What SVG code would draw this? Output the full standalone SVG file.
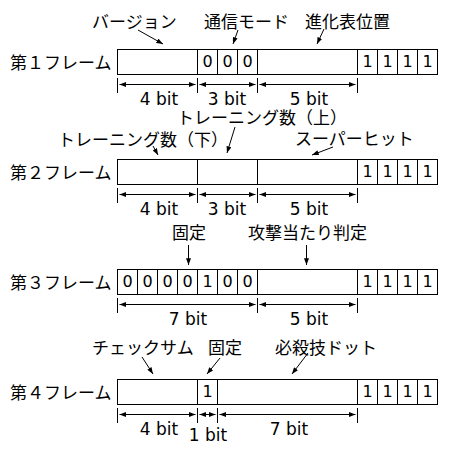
<svg xmlns="http://www.w3.org/2000/svg" width="450" height="450" viewBox="0 0 450 450">
<defs>
<marker id="ah" viewBox="0 0 8 6" refX="8" refY="3" markerWidth="7" markerHeight="5" orient="auto-start-reverse" markerUnits="userSpaceOnUse"><path d="M0,0 L8,3 L0,6 Z" fill="#000"/></marker>
</defs>
<style>
.box{fill:#fff;stroke:#000;stroke-width:1}
.sep{stroke:#000;stroke-width:1}
.jp{font-family:"Noto Sans CJK JP","DejaVu Sans",sans-serif;font-size:17px;fill:#000}
.num{font-family:"DejaVu Sans",sans-serif;font-size:16px;text-anchor:middle;fill:#000}
.bit{font-family:"DejaVu Sans",sans-serif;font-size:17px;text-anchor:middle;fill:#000}
.tick{stroke:#000;stroke-width:1}
.dim{stroke:#000;stroke-width:1;marker-start:url(#ah);marker-end:url(#ah)}
.call{stroke:#000;stroke-width:1;fill:none;marker-end:url(#ah)}
</style>

<!-- Frame 1 -->
<g id="frame1">
<text class="jp" x="10" y="69">第１フレーム</text>
<rect class="box" x="117.5" y="49.5" width="320" height="25"/>
<path class="sep" d="M197.5,49.5V74.5M217.5,49.5V74.5M237.5,49.5V74.5M257.5,49.5V74.5M357.5,49.5V74.5M377.5,49.5V74.5M397.5,49.5V74.5M417.5,49.5V74.5"/>
<text class="num" x="207.5" y="67">0</text><text class="num" x="227.5" y="67">0</text><text class="num" x="247.5" y="67">0</text>
<text class="num" x="367.5" y="67">1</text><text class="num" x="387.5" y="67">1</text><text class="num" x="407.5" y="67">1</text><text class="num" x="427.5" y="67">1</text>
<text class="jp" x="92" y="28">バージョン</text>
<text class="jp" x="204" y="28">通信モード</text>
<text class="jp" x="305" y="28">進化表位置</text>
</g>
<g id="frame1-dims">
<path class="tick" d="M117.5,78V93M197.5,78V93M257.5,78V93M357.5,78V93"/>
<line class="dim" x1="119.5" y1="84.5" x2="195.5" y2="84.5"/>
<line class="dim" x1="199.5" y1="84.5" x2="255.5" y2="84.5"/>
<line class="dim" x1="259.5" y1="84.5" x2="355.5" y2="84.5"/>
<text class="bit" x="159" y="105">4 bit</text>
<text class="bit" x="227" y="105">3 bit</text>
<text class="bit" x="309" y="105">5 bit</text>
</g>

<!-- Frame 2 -->
<g id="frame2">
<text class="jp" x="10" y="179">第２フレーム</text>
<rect class="box" x="117.5" y="159.5" width="320" height="25"/>
<path class="sep" d="M197.5,159.5V184.5M257.5,159.5V184.5M357.5,159.5V184.5M377.5,159.5V184.5M397.5,159.5V184.5M417.5,159.5V184.5"/>
<text class="num" x="367.5" y="177">1</text><text class="num" x="387.5" y="177">1</text><text class="num" x="407.5" y="177">1</text><text class="num" x="427.5" y="177">1</text>
<text class="jp" x="177" y="124">トレーニング数（上）</text>
<text class="jp" x="58" y="146">トレーニング数（下）</text>
<text class="jp" x="295" y="145">スーパーヒット</text>
</g>
<g id="frame2-dims">
<path class="tick" d="M117.5,188V203M197.5,188V203M257.5,188V203M357.5,188V203"/>
<line class="dim" x1="119.5" y1="194.5" x2="195.5" y2="194.5"/>
<line class="dim" x1="199.5" y1="194.5" x2="255.5" y2="194.5"/>
<line class="dim" x1="259.5" y1="194.5" x2="355.5" y2="194.5"/>
<text class="bit" x="159" y="215">4 bit</text>
<text class="bit" x="227" y="215">3 bit</text>
<text class="bit" x="309" y="215">5 bit</text>
</g>

<!-- Frame 3 -->
<g id="frame3">
<text class="jp" x="10" y="289">第３フレーム</text>
<rect class="box" x="117.5" y="269.5" width="320" height="25"/>
<path class="sep" d="M137.5,269.5V294.5M157.5,269.5V294.5M177.5,269.5V294.5M197.5,269.5V294.5M217.5,269.5V294.5M237.5,269.5V294.5M257.5,269.5V294.5M357.5,269.5V294.5M377.5,269.5V294.5M397.5,269.5V294.5M417.5,269.5V294.5"/>
<text class="num" x="127.5" y="287">0</text><text class="num" x="147.5" y="287">0</text><text class="num" x="167.5" y="287">0</text><text class="num" x="187.5" y="287">0</text><text class="num" x="207.5" y="287">1</text><text class="num" x="227.5" y="287">0</text><text class="num" x="247.5" y="287">0</text>
<text class="num" x="367.5" y="287">1</text><text class="num" x="387.5" y="287">1</text><text class="num" x="407.5" y="287">1</text><text class="num" x="427.5" y="287">1</text>
<text class="jp" x="172" y="239">固定</text>
<text class="jp" x="248" y="239">攻撃当たり判定</text>
</g>
<g id="frame3-dims">
<path class="tick" d="M117.5,298V313M257.5,298V313M357.5,298V313"/>
<line class="dim" x1="119.5" y1="304.5" x2="255.5" y2="304.5"/>
<line class="dim" x1="259.5" y1="304.5" x2="355.5" y2="304.5"/>
<text class="bit" x="188" y="325">7 bit</text>
<text class="bit" x="309" y="325">5 bit</text>
</g>

<!-- Frame 4 -->
<g id="frame4">
<text class="jp" x="10" y="399">第４フレーム</text>
<rect class="box" x="117.5" y="379.5" width="320" height="25"/>
<path class="sep" d="M197.5,379.5V404.5M217.5,379.5V404.5M357.5,379.5V404.5M377.5,379.5V404.5M397.5,379.5V404.5M417.5,379.5V404.5"/>
<text class="num" x="207.5" y="397">1</text>
<text class="num" x="367.5" y="397">1</text><text class="num" x="387.5" y="397">1</text><text class="num" x="407.5" y="397">1</text><text class="num" x="427.5" y="397">1</text>
<text class="jp" x="92" y="354">チェックサム</text>
<text class="jp" x="208" y="354">固定</text>
<text class="jp" x="275" y="354">必殺技ドット</text>
</g>
<g id="frame4-dims">
<path class="tick" d="M117.5,408V423M197.5,408V423M217.5,408V423M357.5,408V423"/>
<line class="dim" x1="119.5" y1="414.5" x2="195.5" y2="414.5"/>
<line class="dim" x1="199.5" y1="414.5" x2="215.5" y2="414.5"/>
<line class="dim" x1="219.5" y1="414.5" x2="355.5" y2="414.5"/>
<text class="bit" x="159" y="435">4 bit</text>
<text class="bit" x="208" y="441">1 bit</text>
<text class="bit" x="289" y="435">7 bit</text>
</g>

<!-- Callout connectors -->
<g id="connectors">
<line class="call" x1="138" y1="30" x2="163" y2="44"/>
<line class="call" x1="238" y1="30" x2="233" y2="44"/>
<line class="call" x1="324" y1="29" x2="317" y2="44"/>
<line class="call" x1="235" y1="127" x2="227" y2="153"/>
<line class="call" x1="153" y1="146" x2="158" y2="155"/>
<line class="call" x1="333" y1="147" x2="312" y2="155"/>
<line class="call" x1="188.5" y1="245" x2="188.5" y2="265"/>
<line class="call" x1="306.5" y1="245" x2="306.5" y2="265"/>
<line class="call" x1="142" y1="357" x2="153" y2="374"/>
<line class="call" x1="220" y1="358" x2="207" y2="374"/>
<line class="call" x1="308" y1="353" x2="292" y2="374"/>
</g>
</svg>
